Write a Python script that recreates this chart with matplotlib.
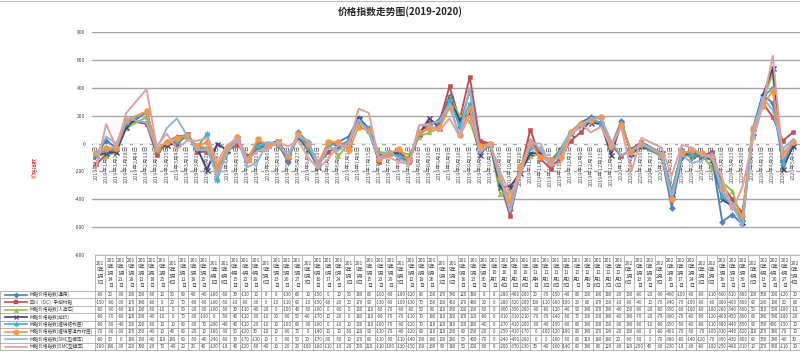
import numpy as np
import matplotlib
matplotlib.use("Agg")
import matplotlib.pyplot as plt
from matplotlib.lines import Line2D

plt.rcParams['font.family'] = ['Noto Sans CJK SC', 'DejaVu Sans']

# ---------------- data ----------------
title = "价格指数走势图(2019-2020)"
ylabel = "价格指数"

dates = [
    "2019-01-07", "2019-01-14", "2019-01-21", "2019-01-28", "2019-02-11", "2019-02-18", "2019-02-25",
    "2019-03-04", "2019-03-11", "2019-03-18", "2019-03-25", "2019-04-01", "2019-04-08", "2019-04-15",
    "2019-04-22", "2019-04-29", "2019-05-06",
    "2019-05-13", "2019-05-20", "2019-05-27", "2019-06-03", "2019-06-10", "2019-06-17", "2019-06-24",
    "2019-07-01", "2019-07-08", "2019-07-15", "2019-07-22", "2019-07-29", "2019-08-05", "2019-08-12",
    "2019-08-19", "2019-08-26", "2019-09-02",
    "2019-09-09", "2019-09-16", "2019-09-23", "2019-09-30", "2019-10-07", "2019-10-14", "2019-10-21",
    "2019-10-28", "2019-11-04", "2019-11-11", "2019-11-18", "2019-11-25", "2019-12-02", "2019-12-09",
    "2019-12-16", "2019-12-23", "2019-12-30",
    "2020-01-06", "2020-01-13", "2020-01-20", "2020-02-03", "2020-02-10", "2020-02-17", "2020-02-24",
    "2020-03-02", "2020-03-09", "2020-03-16", "2020-03-23", "2020-03-30", "2020-04-06", "2020-04-13",
    "2020-04-20", "2020-04-27", "2020-05-04",
]

series_names = [
    "树脂价格指数(通用)",
    "四川（DC）手糊树脂",
    "树脂价格指数(人造石)",
    "树脂价格指数(拉挤)",
    "树脂价格指数(缠绕结构层)",
    "树脂价格指数(缠绕管道内衬层)",
    "树脂价格指数(SMC型模压)",
    "树脂价格指数(DMC型模压)",
]

s_general = [-80, 20, -30, 160, 150, -50, 10, 50, 60, -40, -40, -180, -60, 30, -110, 10, 0,
             0, -130, 80, 10, -150, 0, 10, 50, 180, 80, -100, -60, -100, -120, 60, 130, 170,
             340, 120, 380, 0, 0, -280, -480, -200, 20, -70, -150, -40, 80, 150, 190, 180, -20,
             160, -80, -20, -90, -460, -100, -60, -90, -110, -560, -510, -580, 100, 350, 290, -120, 20]
s_sichuan = [-150, -80, -30, 170, 140, -80, 0, 20, 70, -60, -60, -160, -50, -10, -90, -30, 0,
             -10, -110, 60, -10, -150, -60, -20, 20, 170, 90, -130, -60, -100, -130, 70, 150, 150,
             410, 170, 480, 20, 0, -280, -520, -200, 100, -110, -180, -100, 20, 80, 170, 150, -10,
             -90, -40, 10, -70, -340, -70, -100, -90, -60, -300, -400, -500, 60, 290, 190, 20, 80]
s_stone = [-80, -90, -60, 110, 190, -50, -10, 0, 50, -20, -30, -160, -50, 30, -110, -40, -20,
           0, -100, 40, -50, -160, 0, -90, 0, 160, 110, -60, -70, -60, -80, 50, 80, 110,
           330, 200, 160, -50, 0, -360, -350, -200, -90, -80, -120, -40, 90, 140, 170, 140, -40,
           150, -60, -20, -80, -350, -60, -100, -80, -180, -280, -340, -560, 50, 310, 500, -180, -10]
s_pultrusion = [-80, -70, -60, 120, 230, -40, -10, 0, 70, -30, -190, 0, -50, 40, -110, -30, -10,
                20, -90, 50, -40, -170, 10, -20, 0, 180, 110, -90, -70, -70, -110, 70, 180, 110,
                320, 170, 220, -80, 0, -310, -310, -210, -70, -70, -140, -50, 70, 130, 150, 140, -80,
                140, -70, -20, -70, -360, -70, -80, -90, -120, -400, -450, -560, 80, 340, 540, -180, -20]
s_winding = [-80, -50, -40, 150, 220, -50, 10, 10, 60, -30, 70, -260, -40, 40, -110, -20, -10,
             10, -100, 60, -30, -160, 0, -10, 10, 160, 110, -100, -70, -90, -120, 70, 110, 120,
             310, 130, 280, -40, 0, -270, -410, -200, -30, -40, -150, -60, 80, 140, 160, 150, -30,
             140, -60, -10, -80, -350, -50, -80, -80, -110, -380, -440, -550, 90, 330, 400, -150, 10]
s_liner = [-70, -30, -30, 170, 230, -40, 10, 40, 60, -20, 10, -180, -30, 50, -120, 30, -10,
           10, -90, 70, 0, -140, 10, 10, -50, 120, 90, -110, -70, -40, -120, 80, 110, 110,
           260, 60, 250, -20, 0, -250, -410, -170, 0, -100, -120, -100, 80, 140, 170, 190, -20,
           130, -60, 0, -80, -400, -70, -50, -70, -100, -330, -440, -520, 110, 270, 380, -70, 10]
s_smc = [-80, 50, 0, 180, 150, -40, 110, 180, 60, -50, -40, -240, -60, 30, -170, -130, 10,
         0, -90, 50, 20, -170, -30, -50, 10, 170, 80, -110, -50, -110, -140, 130, 140, 160,
         280, 50, 400, -70, 0, -240, -490, -200, 0, 0, -160, -50, 80, 110, 180, 180, 20,
         -90, -50, 0, -70, -380, -80, -140, -120, -70, -350, -430, -600, 60, 330, 240, -40, 30]
s_dmc = [-180, 140, -30, 220, 390, -20, 70, -40, 20, 20, 40, -130, -10, 40, -120, -50, -40,
         10, -20, 20, -100, -180, -110, -10, -20, 250, 220, -110, -100, -130, -150, 130, 130, 90,
         180, 50, 200, -50, 0, -200, -370, -230, 30, -40, -160, -140, 60, 140, 80, 120, -30,
         120, -200, 40, -30, -230, -10, -30, -80, -100, -250, -480, -310, 10, 270, 630, -110, 20]

all_series = [s_general, s_sichuan, s_stone, s_pultrusion, s_winding, s_liner, s_smc, s_dmc]
y_ticks = [-800, -600, -400, -200, 0, 200, 400, 600, 800]

# ---------------- styles ----------------
colors = ['#4F81BD', '#C0504D', '#9BBB59', '#4A3F78', '#4BACC6', '#F79646', '#95B3D7', '#E0A09E']
markers = ['D', 's', '^', 'x', (6, 2, 0), 'o', None, None]
msizes = [3.0, 3.4, 3.4, 3.6, 4.0, 4.2, 0, 0]

W, H = 800, 358
fig = plt.figure(figsize=(W / 100, H / 100), dpi=100)


def fx(px):
    return px / W


def fy(py):
    return 1 - py / H


# plot area
ax_left, ax_right, ax_top, ax_bottom = 92, 800, 32, 255
ax = fig.add_axes([fx(ax_left), fy(ax_bottom), fx(ax_right - ax_left), (ax_bottom - ax_top) / H])

d0 = np.datetime64(dates[0])
dts = np.array(dates, dtype='datetime64[D]')
xw = (dts - d0).astype(int) / 7.0

for i, (vals, c, m, ms) in enumerate(zip(all_series, colors, markers, msizes)):
    ax.plot(xw, vals, color=c, lw=1.4, marker=m, ms=ms, mew=1.0 if m in ('x', (6, 2, 0)) else 0.4,
            mec=c, mfc=c, zorder=3 + i * 0.1, solid_joinstyle='round')

ax.set_ylim(-800, 800)
ax.set_yticks(y_ticks)
ax.set_yticklabels([str(v) for v in y_ticks], fontsize=3.6, color='#404040')
ax.tick_params(axis='y', length=0, pad=5)
ax.set_xlim(-0.4, 69.7)
ax.set_xticks([])
ax.grid(axis='y', color='#A6A6A6', lw=1.0, zorder=0.5)
ax.set_axisbelow(True)
for sp in ax.spines.values():
    sp.set_visible(False)

# date labels along zero line (every week)
wk = np.arange(d0, dts[-1] + np.timedelta64(1, 'D'), np.timedelta64(7, 'D'))
for d in wk:
    s = str(d)
    y, mth, dd = int(s[:4]), int(s[5:7]), int(s[8:10])
    lab = f"{y}年{mth}月{dd}日"
    xx = (d - d0).astype(int) / 7.0
    ax.text(xx, -12, lab, rotation=90, ha='center', va='top', fontsize=4.0, color='#595959',
            zorder=1, bbox=dict(fc='white', ec='none', pad=0.6))

# title and y label
fig.text(fx(400), fy(12), title, ha='center', va='center', fontsize=7.0, fontweight='bold', color='#262626')
fig.text(fx(35), fy(168), ylabel, ha='center', va='center', rotation=90, fontsize=3.8, color='#D02020')

# ---------------- data table ----------------
tab_x0, tab_x1 = 95, 800
hdr_top, hdr_bot = 255, 291
row_h = 7.4
ncol = len(dates)
cw = (tab_x1 - tab_x0) / ncol
gc = '#9A9A9A'
glw = 0.5


def wrap_header(s):
    lines, cur, w = [], '', 0.0
    for ch in s:
        chw = 0.5 if ch.isascii() else 1.0
        if w + chw > 1.5 and cur:
            lines.append(cur)
            cur, w = '', 0.0
        cur += ch
        w += chw
    lines.append(cur)
    return '\n'.join(lines)


tab_bottom = hdr_bot + row_h * len(all_series)
for j in range(ncol + 1):
    xx = tab_x0 + j * cw
    fig.add_artist(Line2D([fx(xx), fx(xx)], [fy(hdr_top), fy(tab_bottom)], color=gc, lw=glw))
fig.add_artist(Line2D([fx(0), fx(0)], [fy(hdr_bot), fy(tab_bottom)], color=gc, lw=glw))
fig.add_artist(Line2D([fx(tab_x0), fx(tab_x1)], [fy(hdr_top), fy(hdr_top)], color=gc, lw=glw))
for r in range(len(all_series) + 1):
    yy = hdr_bot + r * row_h
    fig.add_artist(Line2D([fx(0), fx(tab_x1)], [fy(yy), fy(yy)], color=gc, lw=glw))

for j, d in enumerate(dates):
    y, mth, dd = int(d[:4]), int(d[5:7]), int(d[8:10])
    lab = wrap_header(f"{y}年{mth}月{dd}日")
    fig.text(fx(tab_x0 + (j + 0.5) * cw), fy((hdr_top + hdr_bot) / 2), lab, ha='center', va='center',
             fontsize=3.5, color='#404040', linespacing=1.3)

for r, (name, vals) in enumerate(zip(series_names, all_series)):
    yc = hdr_bot + (r + 0.5) * row_h
    for j, v in enumerate(vals):
        fig.text(fx(tab_x0 + (j + 0.5) * cw), fy(yc), str(v), ha='center', va='center',
                 fontsize=3.1, color='#404040')
    c, m, ms = colors[r], markers[r], msizes[r]
    fig.add_artist(Line2D([fx(5), fx(27)], [fy(yc), fy(yc)], color=c, lw=1.2))
    if m is not None:
        fig.add_artist(Line2D([fx(16)], [fy(yc)], color=c, marker=m, ms=ms * 0.9,
                              mew=0.8 if m in ('x', (6, 2, 0)) else 0.3, mfc=c, mec=c))
    fig.text(fx(30), fy(yc), name, ha='left', va='center', fontsize=3.3, color='#404040')

fig.add_artist(Line2D([0, 1], [fy(1), fy(1)], color='#BBBBBB', lw=0.8))

fig.savefig('out.png', dpi=100)
